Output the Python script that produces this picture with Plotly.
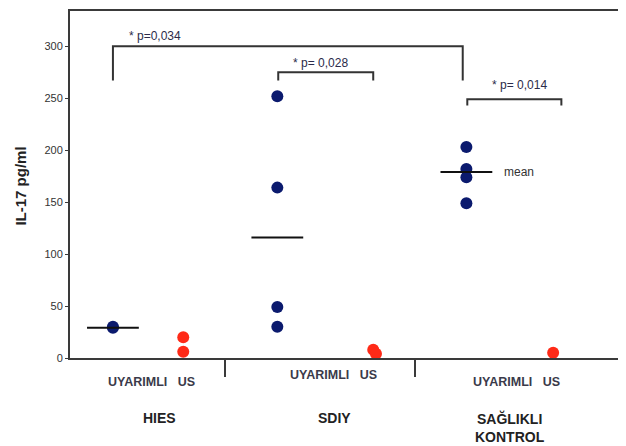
import plotly.graph_objects as go

# ---- data ----
groups = ["HIES", "SDIY", "SAĞLIKLI<br>KONTROL"]
group_u_x = [0.47, 2.27, 4.34]       # UYARIMLI column positions
group_us_x = [1.24, 3.34, 5.29]      # US column positions
separators = [1.70, 3.78]

uyarimli_vals = [[29, 30], [252, 164, 49, 30], [203, 182, 174, 149]]
us_vals = [[20, 6], [8, 4], [5]]
us_jitter = [[0, 0], [-0.02, 0.01], [0]]
mean_vals = [29, 116, 179]

# bracket: x_left, x_right, top, drop, label, label_x, label_y
brackets = [
    (0.47, 4.30, 300, 33, "* p=0,034", 0.93, 310),
    (2.28, 3.32, 275, 8, "* p= 0,028", 2.74, 284),
    (4.35, 5.38, 249, 6, "* p= 0,014", 4.92, 263),
]

# bottom label placement (x in data units, y in paper units)
sub_label_x = [0.89, 2.88, 4.89]
sub_label_y = [-0.068, -0.048, -0.068]
group_label_x = [0.985, 2.90, 4.82]
group_label_y = [-0.174, -0.174, -0.20]

blue = "#0b1a6e"
red = "#ff2a17"
axis_col = "#3a3a3a"
font_fam = "Liberation Sans"

fig = go.Figure()

ux, uy, sx, sy = [], [], [], []
for gx, vals in zip(group_u_x, uyarimli_vals):
    ux += [gx] * len(vals)
    uy += vals
for gx, vals, jit in zip(group_us_x, us_vals, us_jitter):
    sx += [gx + j for j in jit]
    sy += vals

fig.add_trace(go.Scatter(x=ux, y=uy, mode="markers",
                         marker=dict(color=blue, size=12, line=dict(width=0)),
                         showlegend=False))
fig.add_trace(go.Scatter(x=sx, y=sy, mode="markers",
                         marker=dict(color=red, size=12, line=dict(width=0)),
                         showlegend=False))
fig.add_trace(go.Scatter(x=group_u_x, y=mean_vals, mode="markers",
                         marker=dict(symbol="line-ew", size=37,
                                     line=dict(color="#111111", width=2)),
                         showlegend=False))

shapes = []
annotations = []
for xl, xr, top, drop, lab, lx, ly in brackets:
    shapes.append(dict(type="path", xref="x", yref="y",
                       path=f"M {xl},{top-drop} L {xl},{top} L {xr},{top} L {xr},{top-drop}",
                       line=dict(color="#333333", width=2)))
    annotations.append(dict(x=lx, y=ly, xref="x", yref="y", text=lab, showarrow=False,
                            yanchor="middle", xanchor="center",
                            font=dict(size=12, color="#2b2b4a", family=font_fam)))

annotations.append(dict(x=4.34, y=179, xref="x", yref="y", text="mean",
                        showarrow=False, xanchor="left", xshift=36,
                        font=dict(size=12, color="#333333", family=font_fam)))

annotations.append(dict(x=0, y=165, xref="paper", yref="y", text="<b>IL-17 pg/ml</b>",
                        showarrow=False, textangle=-90, xanchor="center", yanchor="middle",
                        xshift=-49,
                        font=dict(size=15, color="#222222", family=font_fam)))

for i, g in enumerate(groups):
    annotations.append(dict(x=sub_label_x[i], y=sub_label_y[i], xref="x", yref="paper",
                            text="<b>UYARIMLI&nbsp;&nbsp;&nbsp;US</b>", showarrow=False,
                            yanchor="middle",
                            font=dict(size=12.5, color="#3a3a4a", family=font_fam)))
    annotations.append(dict(x=group_label_x[i], y=group_label_y[i],
                            xref="x", yref="paper",
                            text=f"<b>{g}</b>", showarrow=False, yanchor="middle",
                            font=dict(size=14, color="#222222", family=font_fam)))

fig.update_layout(
    width=618, height=438,
    margin=dict(l=62, r=8, t=1, b=88),
    paper_bgcolor="white", plot_bgcolor="white",
    shapes=shapes, annotations=annotations,
    xaxis=dict(range=[0, 6], showgrid=False, zeroline=False,
               showline=True, linecolor=axis_col, linewidth=2, mirror=True,
               tickvals=separators, ticktext=["", ""], ticks="outside",
               ticklen=17, tickwidth=2, tickcolor=axis_col),
    yaxis=dict(range=[0, 334], showgrid=False, zeroline=False,
               showline=True, linecolor=axis_col, linewidth=2, mirror=True,
               tickvals=[0, 50, 100, 150, 200, 250, 300], ticks="outside",
               ticklen=3, tickcolor=axis_col,
               tickfont=dict(size=11, color="#333333", family=font_fam)),
)

fig.write_html("out.html")
